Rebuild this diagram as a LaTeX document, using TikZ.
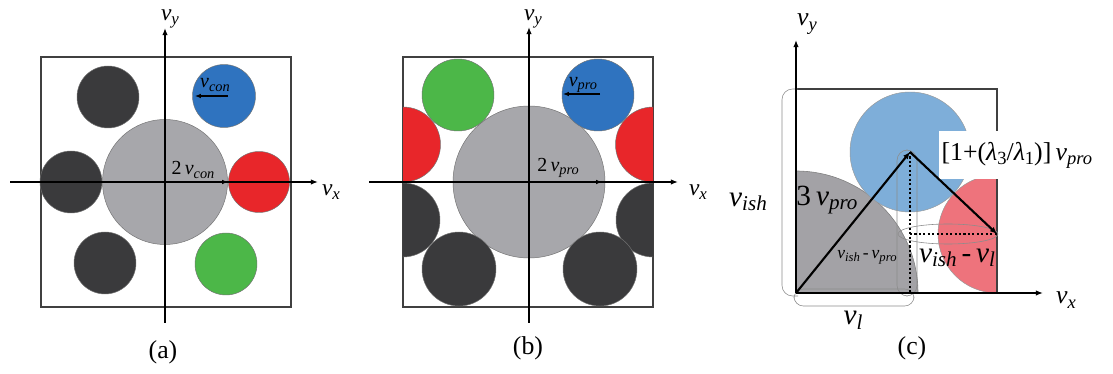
\documentclass[tikz,border=0pt]{standalone}
\usepackage{fontspec}
\setmainfont{Liberation Serif}
\usetikzlibrary{arrows.meta}
\definecolor{dkball}{HTML}{3A3A3C}
\definecolor{bigball}{HTML}{A7A7AB}
\definecolor{blueball}{HTML}{2F73BF}
\definecolor{redball}{HTML}{E8262A}
\definecolor{greenball}{HTML}{4CB748}
\definecolor{ltblue}{HTML}{7EAED9}
\definecolor{ltred}{HTML}{EE737C}
\definecolor{ltgray}{HTML}{A3A2A6}
\newcommand{\vel}[1]{\textit{v}\raisebox{-0.35ex}{\scalebox{0.72}{\textit{#1}}}}
\begin{document}
\begin{tikzpicture}[x=0.03cm,y=-0.03cm,
  frame/.style={draw=black!75,line width=0.9pt},
  axis/.style={line width=1pt,-{Latex[length=6pt,width=4.5pt]}},
  tip/.style={line width=0.9pt,-{Latex[length=5pt,width=4pt]}},
  bold/.style={line width=1.8pt,-{Latex[length=6pt,width=5pt]}},
  ball/.style={draw=black!55,line width=0.4pt},
  loopline/.style={draw=black!45,line width=0.5pt},
  lbl/.style={font=\fontsize{20}{20}\selectfont,inner sep=0pt},
  axlbl/.style={lbl,anchor=base},
  mid/.style={font=\fontsize{17}{17}\selectfont,inner sep=0pt},
  big/.style={font=\fontsize{25}{25}\selectfont,inner sep=0pt}]
\useasboundingbox (0,0) rectangle (1113,374);

% (a)
\draw[frame] (41,57) rectangle (291,307);
\fill[ball,fill=bigball] (165,182) circle (62.5);
\foreach \x/\y in {71/182,108/97,105/263}
  \fill[ball,fill=dkball] (\x,\y) circle (31);
\fill[ball,fill=redball] (259,182) circle (30.5);
\fill[ball,fill=blueball] (224,96) circle (31.5);
\fill[ball,fill=greenball] (226,264) circle (31);
\draw[axis] (10,182) -- (318,182);
\draw[axis] (165,323) -- (165,28);
\node[axlbl] (avx) at (331,196) {\vel{x}};
\node[axlbl] (avy) at (170,21) {\vel{y}};
\coordinate (ao) at (165,182);
\coordinate (ar) at (228,182);
\draw[tip] (ao) -- (ar);
\node[mid] (a2v) at (193,170) {2\,\vel{con}};
\coordinate (ab1) at (228,96);
\coordinate (ab2) at (195,96);
\draw[tip] (ab1) -- (ab2);
\node[mid] (avcon) at (215,85) {\vel{con}};
\node[lbl,font=\fontsize{22}{22}\selectfont] (acap) at (163,352) {(a)};

% (b)
\draw[frame] (403,57) rectangle (653,307);
\begin{scope}
  \clip (403,57) rectangle (653,307);
  \foreach \x in {403,653} {
    \fill[ball,fill=redball] (\x,144.5) circle (37.5);
    \fill[ball,fill=dkball] (\x,220) circle (37);
  }
\end{scope}
\fill[ball,fill=bigball] (529,182) circle (76);
\fill[ball,fill=greenball] (458,95) circle (36);
\fill[ball,fill=blueball] (598,95) circle (36);
\foreach \x in {459,600}
  \fill[ball,fill=dkball] (\x,269) circle (37);
\draw[axis] (369,182) -- (678,182);
\draw[axis] (529,323) -- (529,27);
\node[axlbl] (bvx) at (698,196) {\vel{x}};
\node[axlbl] (bvy) at (533,21) {\vel{y}};
\coordinate (bo) at (529,182);
\coordinate (br) at (602,182);
\draw[tip] (bo) -- (br);
\node[mid] (b2v) at (558,168) {2\,\vel{pro}};
\coordinate (bb1) at (600,94);
\coordinate (bb2) at (563,94);
\draw[tip] (bb1) -- (bb2);
\node[mid] (bvpro) at (583,85) {\vel{pro}};
\node[lbl,font=\fontsize{22}{22}\selectfont] (bcap) at (528,348) {(b)};

% (c)
\coordinate (co) at (796,293);
\coordinate (ctop) at (910,152);
\coordinate (cfoot) at (910,293);
\coordinate (cside) at (910,234);
\coordinate (cend) at (997,234);
\begin{scope}
  \clip (796,293) rectangle (997,80);
  \fill[ltgray,draw=black!50,line width=0.5pt] (co) circle (122);
  \fill[ltblue,draw=black!40,line width=0.4pt] (ctop) circle (60);
  \fill[ltred,draw=black!40,line width=0.4pt] (cend) circle (59);
\end{scope}
\draw[frame] (796,89) -- (997,89) -- (997,293);
\draw[loopline,rounded corners=9pt] (798,89) -- (782,89) -- (782,296) -- (798,296);
\draw[loopline,rounded corners=8pt] (794,289) rectangle (914,306);
\draw[loopline,rounded corners=9pt] (897,150) rectangle (917,296);
\draw[loopline] (948,234) ellipse (50 and 10);
\node[lbl,font=\fontsize{22}{22}\selectfont,fill=white,anchor=west,inner xsep=2pt,inner ysep=9pt] (clam) at (939,155)
  {[1+(\textit{λ}\raisebox{-0.35ex}{\scalebox{0.72}{3}}/\textit{λ}\raisebox{-0.35ex}{\scalebox{0.72}{1}})]\,\vel{pro}};
\draw[line width=1.8pt,dotted] (ctop) -- (cfoot);
\draw[line width=1.8pt,dotted] (cside) -- (cend);
\draw[bold] (co) -- (ctop);
\draw[bold] (ctop) -- (cend);
\draw[axis] (co) -- (1043,293);
\draw[axis] (co) -- (796,40);
\node[axlbl,font=\fontsize{22}{22}\selectfont] (cvx) at (1066,304) {\vel{x}};
\node[axlbl,font=\fontsize{22}{22}\selectfont] (cvy) at (807,26) {\vel{y}};
\node[big] (cvish) at (748,202) {\vel{ish}};
\node[big] (c3v) at (827,200) {3\,\vel{pro}};
\node[font=\fontsize{15}{15}\selectfont,inner sep=0pt] (cdiff) at (867,257) {\vel{ish}\,-\,\vel{pro}};
\node[big] (cdiff2) at (957,258) {\vel{ish}\,-\,\vel{l}};
\node[big] (cvl) at (853,320) {\vel{l}};
\node[lbl,font=\fontsize{22}{22}\selectfont] (ccap) at (912,348) {(c)};
\end{tikzpicture}
\end{document}
